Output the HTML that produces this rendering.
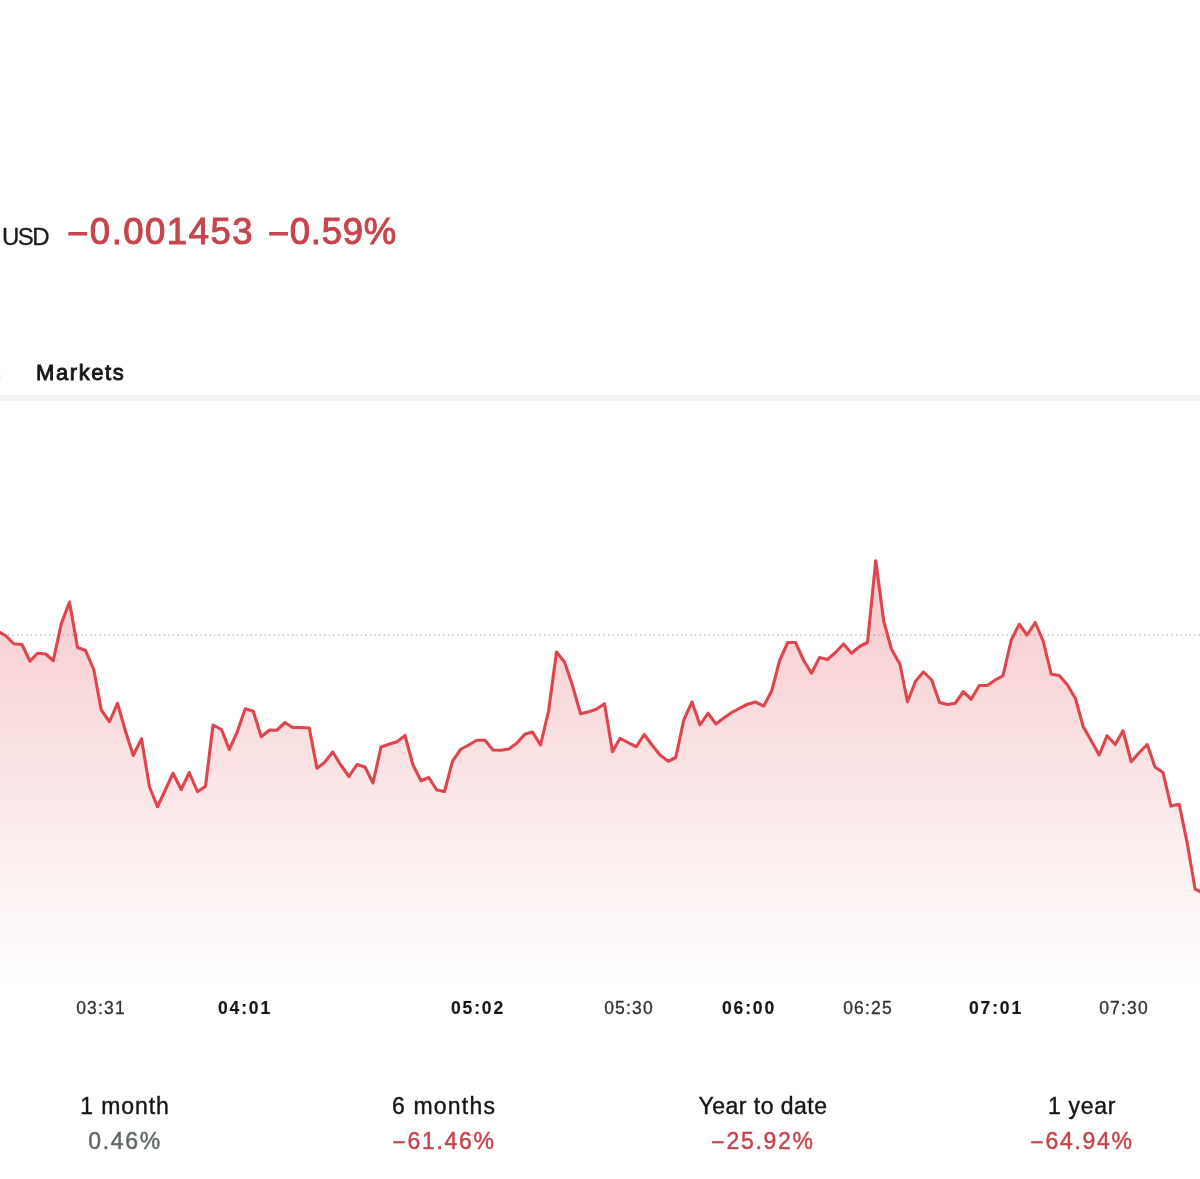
<!DOCTYPE html>
<html><head><meta charset="utf-8"><title>Chart</title>
<style>
html,body{margin:0;padding:0;background:#fff;}
body{width:1200px;height:1179px;position:relative;overflow:hidden;font-family:"Liberation Sans",sans-serif;color:#131313;}
.abs,.tk,.col{will-change:transform;}
.abs{position:absolute;white-space:nowrap;line-height:1;}
.usd{left:1.5px;top:224.5px;font-size:24px;letter-spacing:-1.6px;color:#1a1a1a;-webkit-text-stroke:0.3px #1a1a1a;}
.chg{left:67.3px;top:214.4px;font-size:36.5px;font-weight:400;-webkit-text-stroke:1.0px #c6454c;letter-spacing:0.9px;word-spacing:2.5px;color:#c6454c;}
.tab{left:36.3px;top:361.6px;font-size:22px;font-weight:400;-webkit-text-stroke:0.9px #161616;letter-spacing:1.6px;color:#161616;}
.m{position:relative;top:1.8px;}
.n{position:relative;top:0.9px;}
.sep{position:absolute;left:0;top:395px;width:1200px;height:6px;background:#f2f2f2;}
svg{position:absolute;left:0;top:0;}
.tk{position:absolute;top:998px;font-size:17.5px;letter-spacing:1.15px;color:#303030;-webkit-text-stroke:0.3px #303030;white-space:nowrap;line-height:20px;transform:translateX(-50%);}
.tk.b{font-weight:700;color:#161616;letter-spacing:1.85px;-webkit-text-stroke:0.15px #161616;}
.col{position:absolute;top:0;width:300px;margin-left:-150px;text-align:center;white-space:nowrap;}
.col .l{position:absolute;left:0;right:0;top:1093.3px;font-size:23px;line-height:26px;letter-spacing:0.9px;color:#161616;-webkit-text-stroke:0.4px #161616;}
.col .v{position:absolute;left:0;right:0;top:1128px;font-size:23px;line-height:26px;letter-spacing:1.7px;color:#c6434b;-webkit-text-stroke:0.45px #c6434b;}
.col .v.g{color:#5f6967;-webkit-text-stroke:0.45px #5f6967;}
</style></head><body>
<div class="abs usd">USD</div>
<div class="abs chg"><span style="letter-spacing:1.5px"><span class="m">−</span>0.001453</span> <span style="letter-spacing:0.75px"><span class="m">−</span>0.59%</span></div>
<div class="abs tab">Markets</div>
<div class="sep"></div>
<div style="position:absolute;left:0;top:374.5px;width:1px;height:3px;background:#ececec"></div>
<svg width="1200" height="1179" viewBox="0 0 1200 1179">
<defs><linearGradient id="g" gradientUnits="userSpaceOnUse" x1="0" y1="540" x2="0" y2="986">
<stop offset="0" stop-color="#e0444c" stop-opacity="0.305"/><stop offset="1" stop-color="#e0444c" stop-opacity="0"/></linearGradient></defs>
<line x1="-1.05" y1="635" x2="1200" y2="635" stroke="#c0c0c8" stroke-width="2" stroke-dasharray="1.1 3.48"/>
<polygon fill="url(#g)" points="-3,631 0,632.5 5.5,635.5 13.75,643.75 22,644.5 30,661.25 37.5,653.25 45.75,654 53.25,660.75 61.25,623.75 69.5,602 77.5,647.5 85.5,650.5 93.75,669.5 101.25,710 109.5,721.75 117.5,703.25 125.5,731.25 133.25,755.5 141.5,738.75 149.5,787 157.5,806.75 165.3,790 173,773.25 181.25,789.5 189.25,772.5 197.5,791.75 205.5,786.25 213,725 221.5,729.5 229.25,749.5 237,732.5 245.25,708.75 253.25,711.25 261.25,736.75 269.5,730 276.75,730.25 285,722.5 292.5,727.5 300,727.5 309.25,728 317,768.25 324.5,762.5 332.75,752 340.75,765 349,776.5 357,764.5 365,767 373,783 381,747 389,744.25 397,741.75 405,735.5 413,765 421,780.75 428.75,777.5 436.75,790 444.5,791.5 452.5,761.25 460.75,749.25 468.75,745 476.75,740.25 485,740.25 493,750 501,750.25 508.75,749 516.75,743.25 524.75,734.25 532.5,732 540.5,745 548.5,711.25 556.5,652 564.5,662 572.5,685.5 580.5,713.75 588.75,711.75 596.25,709.25 604.5,703.75 612.5,751.75 620,738.25 628,742.5 636.25,746.75 644.25,734.5 652,745 660,755 668.25,761.25 675.75,757.5 683.75,720 692,702 700,725 708,713.25 716,724 723.75,718 731.75,712.5 740,708 747.5,704.25 755.5,702 763.75,706 771.75,690.75 779.5,660.75 787.75,642.5 795.5,642.5 803.5,660 811.5,673.25 819.5,657.5 827.5,659.5 835.5,652.5 843.5,644 851.5,653.25 860,646.25 867.5,642.5 875.75,560.75 883.75,621.25 891.5,649.25 900,664.25 907.5,701.75 915.5,681.25 923.5,672 931.75,680 939.5,702.5 947.5,704.5 955.25,703.25 963.25,691.75 971.25,699.25 979.25,685.5 987.25,685.5 995.25,680 1003,675.75 1011.25,640 1019.25,624.25 1027,635 1035.25,622.5 1043.25,641.25 1051.25,674.25 1059.25,675.5 1067.5,685 1075.5,698.75 1083.25,726.75 1091.25,740.75 1099.25,755 1107,735.75 1115.25,744.5 1123,730.75 1131.25,761.75 1139.25,752.5 1147.25,744.5 1155,767 1163,772.5 1170.9,806.1 1179.2,804.3 1187.3,843.4 1195.1,889.1 1203,893 1203,990 -3,990"/>
<polyline fill="none" stroke="#e0444c" stroke-width="3.1" stroke-linejoin="round" stroke-linecap="round" points="-3,631 0,632.5 5.5,635.5 13.75,643.75 22,644.5 30,661.25 37.5,653.25 45.75,654 53.25,660.75 61.25,623.75 69.5,602 77.5,647.5 85.5,650.5 93.75,669.5 101.25,710 109.5,721.75 117.5,703.25 125.5,731.25 133.25,755.5 141.5,738.75 149.5,787 157.5,806.75 165.3,790 173,773.25 181.25,789.5 189.25,772.5 197.5,791.75 205.5,786.25 213,725 221.5,729.5 229.25,749.5 237,732.5 245.25,708.75 253.25,711.25 261.25,736.75 269.5,730 276.75,730.25 285,722.5 292.5,727.5 300,727.5 309.25,728 317,768.25 324.5,762.5 332.75,752 340.75,765 349,776.5 357,764.5 365,767 373,783 381,747 389,744.25 397,741.75 405,735.5 413,765 421,780.75 428.75,777.5 436.75,790 444.5,791.5 452.5,761.25 460.75,749.25 468.75,745 476.75,740.25 485,740.25 493,750 501,750.25 508.75,749 516.75,743.25 524.75,734.25 532.5,732 540.5,745 548.5,711.25 556.5,652 564.5,662 572.5,685.5 580.5,713.75 588.75,711.75 596.25,709.25 604.5,703.75 612.5,751.75 620,738.25 628,742.5 636.25,746.75 644.25,734.5 652,745 660,755 668.25,761.25 675.75,757.5 683.75,720 692,702 700,725 708,713.25 716,724 723.75,718 731.75,712.5 740,708 747.5,704.25 755.5,702 763.75,706 771.75,690.75 779.5,660.75 787.75,642.5 795.5,642.5 803.5,660 811.5,673.25 819.5,657.5 827.5,659.5 835.5,652.5 843.5,644 851.5,653.25 860,646.25 867.5,642.5 875.75,560.75 883.75,621.25 891.5,649.25 900,664.25 907.5,701.75 915.5,681.25 923.5,672 931.75,680 939.5,702.5 947.5,704.5 955.25,703.25 963.25,691.75 971.25,699.25 979.25,685.5 987.25,685.5 995.25,680 1003,675.75 1011.25,640 1019.25,624.25 1027,635 1035.25,622.5 1043.25,641.25 1051.25,674.25 1059.25,675.5 1067.5,685 1075.5,698.75 1083.25,726.75 1091.25,740.75 1099.25,755 1107,735.75 1115.25,744.5 1123,730.75 1131.25,761.75 1139.25,752.5 1147.25,744.5 1155,767 1163,772.5 1170.9,806.1 1179.2,804.3 1187.3,843.4 1195.1,889.1 1203,893"/>
</svg>
<div class="tk" style="left:101.4px">03:31</div>
<div class="tk b" style="left:245.2px">04:01</div>
<div class="tk b" style="left:477.5px">05:02</div>
<div class="tk" style="left:629.1px">05:30</div>
<div class="tk b" style="left:748.8px">06:00</div>
<div class="tk" style="left:868.2px">06:25</div>
<div class="tk b" style="left:995.5px">07:01</div>
<div class="tk" style="left:1123.6px">07:30</div>
<div class="col" style="left:125px"><div class="l">1 month</div><div class="v g">0.46%</div></div>
<div class="col" style="left:443.5px"><div class="l" style="letter-spacing:1.2px">6 months</div><div class="v"><span class="n">−</span>61.46%</div></div>
<div class="col" style="left:762.8px"><div class="l" style="letter-spacing:0.47px">Year to date</div><div class="v"><span class="n">−</span>25.92%</div></div>
<div class="col" style="left:1082px"><div class="l" style="letter-spacing:0.68px">1 year</div><div class="v"><span class="n">−</span>64.94%</div></div>
</body></html>
